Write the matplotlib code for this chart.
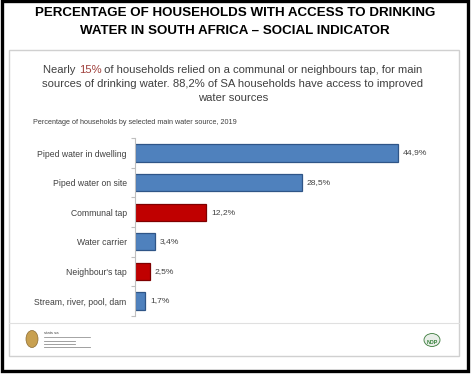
import matplotlib
matplotlib.use("Agg")
import matplotlib.pyplot as plt
from matplotlib.patches import Rectangle, Circle, Ellipse
from matplotlib.lines import Line2D

plt.rcParams['font.family'] = ['Liberation Sans', 'DejaVu Sans']

categories = ["Piped water in dwelling", "Piped water on site", "Communal tap",
              "Water carrier", "Neighbour's tap", "Stream, river, pool, dam"]
values = [44.9, 28.5, 12.2, 3.4, 2.5, 1.7]
value_labels = ["44,9%", "28,5%", "12,2%", "3,4%", "2,5%", "1,7%"]
highlight = [False, False, True, False, True, False]

W, H = 471, 380
fig = plt.figure(figsize=(W / 100, H / 100), dpi=100)


def fx(x):
    return x / W


def fy(y):
    return 1 - y / H


# outer black frame
fig.patches.append(Rectangle((fx(1.5), fy(371)), fx(467.5) - fx(1.5), fy(1.5) - fy(371),
                             transform=fig.transFigure, fill=False, edgecolor='black', linewidth=2.4))
# inner light grey box
fig.patches.append(Rectangle((fx(8.5), fy(356)), fx(459) - fx(8.5), fy(50) - fy(356),
                             transform=fig.transFigure, fill=False, edgecolor='#D0D0D0', linewidth=1.0))
fig.lines.append(Line2D([fx(9), fx(458.5)], [fy(323), fy(323)], transform=fig.transFigure,
                        color='#E0E0E0', linewidth=0.8))

# title
title_fs = 9.6
fig.text(fx(235), fy(13), "PERCENTAGE OF HOUSEHOLDS WITH ACCESS TO DRINKING",
         ha='center', va='center', fontsize=title_fs, fontweight='bold', color='black')
fig.text(fx(235), fy(30.5), "WATER IN SOUTH AFRICA \u2013 SOCIAL INDICATOR",
         ha='center', va='center', fontsize=title_fs, fontweight='bold', color='black')

# subtitle
sub_col = '#404040'
sub_fs = 8.1
line1_a = "Nearly "
line1_b = "15%"
line1_c = " of households relied on a communal or neighbours tap, for main"
t = fig.text(fx(233), fy(70), line1_a + line1_b + line1_c, ha='center', va='center',
             fontsize=sub_fs, color=sub_col)
fig.canvas.draw()
r = fig.canvas.get_renderer()
bb = t.get_window_extent(r)
t.set_visible(False)
ta = fig.text(bb.x0 / fig.bbox.width, fy(70), line1_a, ha='left', va='center',
              fontsize=sub_fs, color=sub_col)
bba = ta.get_window_extent(r)
tb = fig.text(bba.x1 / fig.bbox.width, fy(70), line1_b, ha='left', va='center',
              fontsize=sub_fs, color='#A0403C')
bbb = tb.get_window_extent(r)
fig.text(bbb.x1 / fig.bbox.width, fy(70), line1_c, ha='left', va='center',
         fontsize=sub_fs, color=sub_col)
fig.text(fx(233), fy(84), "sources of drinking water. 88,2% of SA households have access to improved",
         ha='center', va='center', fontsize=sub_fs, color=sub_col)
fig.text(fx(233), fy(98), "water sources", ha='center', va='center', fontsize=sub_fs, color=sub_col)

fig.text(fx(33), fy(123), "Percentage of households by selected main water source, 2019",
         ha='left', va='center', fontsize=5.2, color='#404040')

# axes
px_per_unit = 5.85
ax_left, ax_right = 135, 445
ax_top, ax_bot = 138, 316
ax = fig.add_axes([fx(ax_left), fy(ax_bot), fx(ax_right) - fx(ax_left), fy(ax_top) - fy(ax_bot)])
ax.set_xlim(0, (ax_right - ax_left) / px_per_unit)
ax.set_ylim(5 + (ax_bot - 301) / 29.6, -(153 - ax_top) / 29.6)

ypos = list(range(len(categories)))
colors = ['#C00000' if h else '#4F81BD' for h in highlight]
edges = ['#7F0000' if h else '#2F5587' for h in highlight]
ax.barh(ypos, values, height=0.575, color=colors, edgecolor=edges, linewidth=0.9)
for y, v, lab in zip(ypos, values, value_labels):
    ax.text(v + 0.9, y, lab, ha='left', va='center', fontsize=6.1, color='#404040')

for s in ['top', 'right', 'bottom']:
    ax.spines[s].set_visible(False)
ax.spines['left'].set_color('#BFBFBF')
ax.spines['left'].set_linewidth(0.8)
ax.set_xticks([])
ax.set_yticks(ypos)
ax.set_yticklabels(categories, fontsize=6.2, color='#404040')
ax.tick_params(axis='y', which='major', length=0, pad=6)
ax.set_yticks([i - 0.5 for i in range(len(categories) + 1)], minor=True)
ax.tick_params(axis='y', which='minor', length=3, color='#BFBFBF', width=0.8)
ax.patch.set_visible(False)

# simple logo approximations
fig.patches.append(Ellipse((fx(32), fy(339)), fx(12) - fx(0), fy(0) - fy(17),
                           transform=fig.transFigure, facecolor='#C8A050', edgecolor='#8A6A30', linewidth=0.5))
fig.text(fx(44), fy(333), "stats sa", fontsize=3, color='#404040', ha='left', va='center')
fig.lines.append(Line2D([fx(44), fx(90)], [fy(337), fy(337)], transform=fig.transFigure,
                        color='#808080', linewidth=0.5))
for yy in (341, 344, 347):
    fig.lines.append(Line2D([fx(44), fx(75 if yy != 347 else 90)], [fy(yy), fy(yy)],
                            transform=fig.transFigure, color='#909090', linewidth=0.6))
fig.patches.append(Circle((fx(432), fy(340)), fx(8), transform=fig.transFigure,
                          facecolor='#E8EEE8', edgecolor='#3A7A3A', linewidth=0.6))
fig.text(fx(432), fy(343), "NDP", fontsize=3.8, fontweight='bold', color='#2E7D32',
         ha='center', va='center')

fig.savefig("out.png", dpi=100)
